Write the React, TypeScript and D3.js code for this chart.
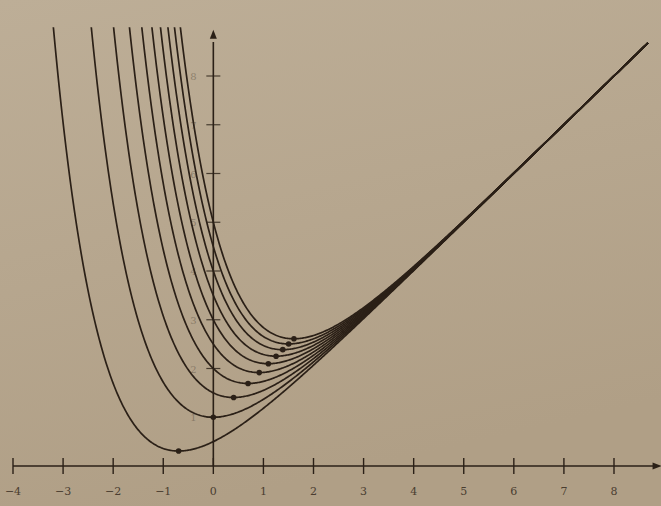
import { useEffect, useRef } from "react";
import * as d3 from "d3";

// family y = x + a·e^(-x), one curve per parameter a
const params = [0.5, 1, 1.5, 2, 2.5, 3, 3.5, 4, 4.5, 5];
const xTicks = [-4, -3, -2, -1, 0, 1, 2, 3, 4, 5, 6, 7, 8];
const xTickLabels = ["−4", "−3", "−2", "−1", "0", "1", "2", "3", "4", "5", "6", "7", "8"];
const yTicks = [1, 2, 3, 4, 5, 6, 7, 8];

const W = 661;
const H = 506;
const INK = "#2b2017";

export default function App() {
  const svgRef = useRef<SVGSVGElement>(null);

  useEffect(() => {
    if (!svgRef.current) return;
    const svg = d3.select(svgRef.current);
    svg.selectAll("*").remove();

    const x = d3.scaleLinear().domain([-4, 8]).range([13, 614]);
    const y = d3.scaleLinear().domain([0, 8]).range([466, 76]);

    const yTop = 9.0;
    const xEnd = 8.68;

    // paper background
    const defs = svg.append("defs");
    const grad = defs
      .append("linearGradient")
      .attr("id", "paper")
      .attr("x1", 0)
      .attr("y1", 0)
      .attr("x2", 0.3)
      .attr("y2", 1);
    grad.append("stop").attr("offset", "0%").attr("stop-color", "#bdae97");
    grad.append("stop").attr("offset", "100%").attr("stop-color", "#b09f86");

    defs
      .append("clipPath")
      .attr("id", "plotclip")
      .append("rect")
      .attr("x", 0)
      .attr("y", y(yTop))
      .attr("width", W)
      .attr("height", H - y(yTop));

    svg.append("rect").attr("width", W).attr("height", H).attr("fill", "url(#paper)");

    // x axis
    const gx = svg.append("g");
    gx.append("line")
      .attr("x1", x(-4))
      .attr("x2", x(8.85))
      .attr("y1", y(0))
      .attr("y2", y(0))
      .attr("stroke", INK)
      .attr("stroke-width", 1.6);
    gx.append("path")
      .attr("d", `M${x(8.95)},${y(0)} l-9,-3.5 l0,7 z`)
      .attr("fill", INK);
    gx.selectAll(".xt")
      .data(xTicks)
      .enter()
      .append("line")
      .attr("x1", (d) => x(d))
      .attr("x2", (d) => x(d))
      .attr("y1", y(0) - 8)
      .attr("y2", y(0) + 8)
      .attr("stroke", INK)
      .attr("stroke-width", 1.4);
    gx.selectAll(".xl")
      .data(xTicks)
      .enter()
      .append("text")
      .attr("x", (d) => x(d))
      .attr("y", y(0) + 29)
      .attr("text-anchor", "middle")
      .attr("font-family", "'DejaVu Serif', serif")
      .attr("font-size", 11)
      .attr("fill", "#4a3d30")
      .text((_, i) => xTickLabels[i]);

    // y axis
    const gy = svg.append("g");
    gy.append("line")
      .attr("x1", x(0))
      .attr("x2", x(0))
      .attr("y1", y(0))
      .attr("y2", y(8.7))
      .attr("stroke", INK)
      .attr("stroke-width", 1.6);
    gy.append("path")
      .attr("d", `M${x(0)},${y(8.95)} l-3.5,9 l7,0 z`)
      .attr("fill", INK);
    gy.selectAll(".yt")
      .data(yTicks)
      .enter()
      .append("line")
      .attr("x1", x(0) - 7)
      .attr("x2", x(0) + 7)
      .attr("y1", (d) => y(d))
      .attr("y2", (d) => y(d))
      .attr("stroke", INK)
      .attr("stroke-width", 1.2)
      .attr("stroke-opacity", 0.8);
    gy.selectAll(".yl")
      .data(yTicks)
      .enter()
      .append("text")
      .attr("x", x(0) - 20)
      .attr("y", (d) => y(d) + 4)
      .attr("text-anchor", "middle")
      .attr("font-family", "'DejaVu Serif', serif")
      .attr("font-size", 10)
      .attr("fill", "#6d5f4f")
      .attr("fill-opacity", 0.6)
      .text((d) => String(d));

    // curves
    const line = d3
      .line<[number, number]>()
      .x((d) => x(d[0]))
      .y((d) => y(d[1]))
      .curve(d3.curveLinear);

    const gc = svg.append("g").attr("clip-path", "url(#plotclip)");
    params.forEach((a) => {
      const pts: [number, number][] = d3
        .range(-3.6, xEnd + 0.001, 0.02)
        .map((t) => [t, t + a * Math.exp(-t)] as [number, number])
        .filter((p) => p[1] < yTop + 1.5);
      gc.append("path")
        .datum(pts)
        .attr("fill", "none")
        .attr("stroke", INK)
        .attr("stroke-width", 1.7)
        .attr("d", line);
    });

    // minima at (ln a, 1 + ln a)
    svg
      .selectAll(".dot")
      .data(params)
      .enter()
      .append("circle")
      .attr("cx", (a) => x(Math.log(a)))
      .attr("cy", (a) => y(1 + Math.log(a)))
      .attr("r", 2.8)
      .attr("fill", INK);
  }, []);

  return (
    <svg
      ref={svgRef}
      width={W}
      height={H}
      style={{ position: "absolute", left: 0, top: 0, display: "block" }}
    />
  );
}
